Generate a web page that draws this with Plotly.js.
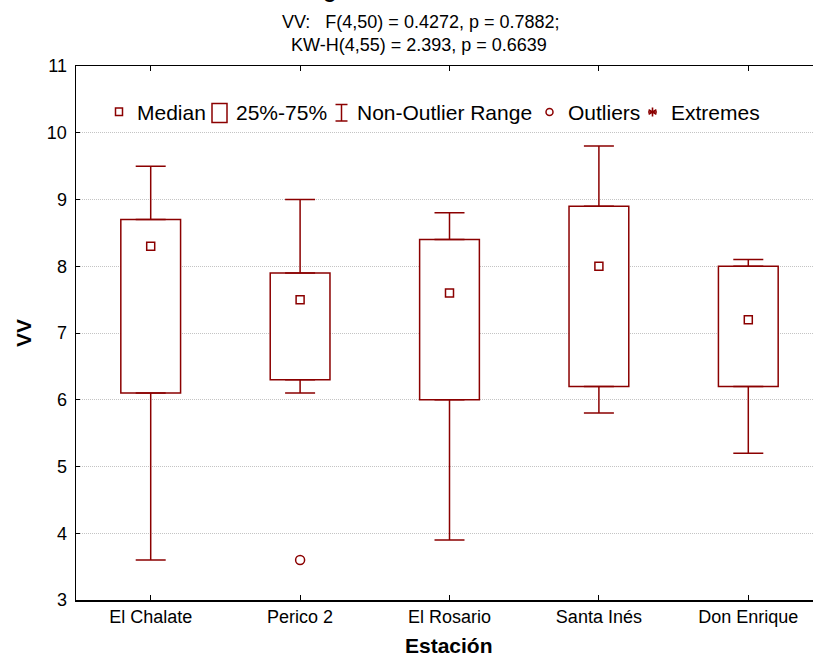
<!DOCTYPE html>
<html>
<head>
<meta charset="utf-8">
<script src="https://cdn.plot.ly/plotly-3.0.1.min.js"></script>
<style>html,body{margin:0;padding:0;background:#fff;}#chart{width:813px;height:656px;}</style>
</head>
<body>
<div id="chart"></div>
<script>
// ---- data ----
const categories = ["El Chalate", "Perico 2", "El Rosario", "Santa Inés", "Don Enrique"];
const medians    = [8.3, 7.5, 7.6, 8.0, 7.2];
const q1         = [6.1, 6.3, 6.0, 6.2, 6.2];
const q3         = [8.7, 7.9, 8.4, 8.9, 8.0];
const whiskerLow = [3.6, 6.1, 3.9, 5.8, 5.2];
const whiskerHigh= [9.5, 9.0, 8.8, 9.8, 8.1];
const outlierCats = ["Perico 2"];
const outlierVals = [3.6];
const yTicks = [3, 4, 5, 6, 7, 8, 9, 10, 11];
const titleText = "Categ. Box & Whisker Plot: VV";
const subtitle1 = "VV:\u00a0\u00a0\u00a0F(4,50) = 0.4272, p = 0.7882;";
const subtitle2 = "KW-H(4,55) = 2.393, p = 0.6639";
const legendLabels = ["Median", "25%-75%", "Non-Outlier Range", "Outliers", "Extremes"];

const RED = "#8B0000";
const FONT = "Liberation Sans, Arial, sans-serif";

// ---- geometry helpers (layout only) ----
const W = 813, H = 656;
const M = {l: 76, r: 0, t: 66, b: 56};
const PW = W - M.l - M.r, PH = H - M.t - M.b;
const px = x => (x - M.l) / PW;
const py = y => (H - M.b - y) / PH;

const traces = [
  {
    type: "bar", x: categories, base: q1,
    y: q3.map((v, i) => v - q1[i]),
    width: 0.4,
    marker: {color: "#ffffff", line: {color: RED, width: 1.5}},
    hoverinfo: "skip", showlegend: false
  },
  {
    type: "scatter", mode: "markers", x: categories, y: q3,
    marker: {size: 0.1, color: "rgba(0,0,0,0)"},
    error_y: {type: "data", symmetric: false,
      array: whiskerHigh.map((v, i) => v - q3[i]),
      arrayminus: q3.map(() => 0),
      color: RED, thickness: 1.5, width: 15},
    showlegend: false, hoverinfo: "skip"
  },
  {
    type: "scatter", mode: "markers", x: categories, y: q1,
    marker: {size: 0.1, color: "rgba(0,0,0,0)"},
    error_y: {type: "data", symmetric: false,
      array: q1.map(() => 0),
      arrayminus: q1.map((v, i) => v - whiskerLow[i]),
      color: RED, thickness: 1.5, width: 15},
    showlegend: false, hoverinfo: "skip"
  },
  {
    type: "scatter", mode: "markers", x: categories, y: medians,
    marker: {symbol: "square-open", size: 8, color: RED, line: {width: 1.5, color: RED}},
    showlegend: false
  },
  {
    type: "scatter", mode: "markers", x: outlierCats, y: outlierVals,
    marker: {symbol: "circle-open", size: 9, color: RED, line: {width: 1.5, color: RED}},
    showlegend: false
  }
];

// ---- manual legend ----
const shapes = [];
const annotations = [];
const lw = 1.5;
// median square
shapes.push({type: "rect", xref: "paper", yref: "paper", x0: px(115.5), x1: px(122.5), y0: py(115.5), y1: py(108), line: {color: RED, width: lw}});
// box
shapes.push({type: "rect", xref: "paper", yref: "paper", x0: px(212), x1: px(227), y0: py(122.5), y1: py(103.5), line: {color: RED, width: lw}});
// whisker icon
shapes.push({type: "line", xref: "paper", yref: "paper", x0: px(341.5), x1: px(341.5), y0: py(121), y1: py(104.5), line: {color: RED, width: lw}});
shapes.push({type: "line", xref: "paper", yref: "paper", x0: px(335.5), x1: px(347.5), y0: py(104.5), y1: py(104.5), line: {color: RED, width: lw}});
shapes.push({type: "line", xref: "paper", yref: "paper", x0: px(335.5), x1: px(347.5), y0: py(121), y1: py(121), line: {color: RED, width: lw}});
// outlier circle
shapes.push({type: "circle", xref: "paper", yref: "paper", x0: px(546), x1: px(553), y0: py(115.5), y1: py(108.5), line: {color: RED, width: lw}});
// extremes asterisk
const ax = 652.5, ay = 112, ar = 4.5;
[[0, ar], [ar * 0.87, ar * 0.5], [ar * 0.87, -ar * 0.5], [ar, 0]].forEach(([dx, dy]) => {
  shapes.push({type: "line", xref: "paper", yref: "paper", x0: px(ax - dx), x1: px(ax + dx), y0: py(ay + dy), y1: py(ay - dy), line: {color: RED, width: 1.6}});
});
const legX = [136, 235, 356, 567, 670];
legendLabels.forEach((t, i) => {
  annotations.push({text: t, xref: "paper", yref: "paper", x: px(legX[i]), y: py(112), xanchor: "left", yanchor: "middle",
    showarrow: false, font: {family: FONT, size: 21, color: "#000"}, borderpad: 0});
});
// subtitle lines
annotations.push({text: subtitle1, xref: "paper", yref: "paper", x: px(421), y: py(22), xanchor: "center", yanchor: "middle",
  showarrow: false, font: {family: FONT, size: 18, color: "#000"}});
annotations.push({text: subtitle2, xref: "paper", yref: "paper", x: px(419), y: py(45), xanchor: "center", yanchor: "middle",
  showarrow: false, font: {family: FONT, size: 18, color: "#000"}});
// main title (mostly cropped off the top, as in the reference)
annotations.push({text: "<b>" + titleText + "</b>", xref: "paper", yref: "paper", x: px(276), y: py(4), xanchor: "left", yanchor: "bottom",
  showarrow: false, font: {family: FONT, size: 21, color: "#000"}});
// x axis title
annotations.push({text: "<b>Estación</b>", xref: "paper", yref: "paper", x: px(449), y: py(645), xanchor: "center", yanchor: "middle",
  showarrow: false, font: {family: FONT, size: 21, color: "#000"}});

const layout = {
  width: W, height: H,
  margin: M,
  paper_bgcolor: "#fff", plot_bgcolor: "#fff",
  showlegend: false,
  barmode: "overlay",
  font: {family: FONT, size: 18, color: "#000"},
  xaxis: {
    type: "category", range: [-0.5, -0.5 + PW / 149.4],
    showgrid: false, zeroline: false,
    showline: true, linecolor: "#000", linewidth: 1.5, mirror: "ticks",
    ticks: "inside", ticklen: 5, tickwidth: 1, tickcolor: "#000",
    tickfont: {family: FONT, size: 18, color: "#000"}
  },
  yaxis: {
    range: [3, 11], tickvals: yTicks,
    showgrid: true, gridcolor: "#c4c4c4", gridwidth: 1, griddash: "1px,1px",
    zeroline: false, showline: true, linecolor: "#000", linewidth: 1.5,
    ticks: "inside", ticklen: 4, tickwidth: 1, tickcolor: "#000",
    ticklabelstandoff: 4,
    tickfont: {family: FONT, size: 18, color: "#000"},
    title: {text: "<b>VV</b>", font: {family: FONT, size: 21, color: "#000"}, standoff: 9}
  },
  shapes: shapes,
  annotations: annotations
};

Plotly.newPlot("chart", traces, layout, {staticPlot: true, displayModeBar: false});
</script>
</body>
</html>
